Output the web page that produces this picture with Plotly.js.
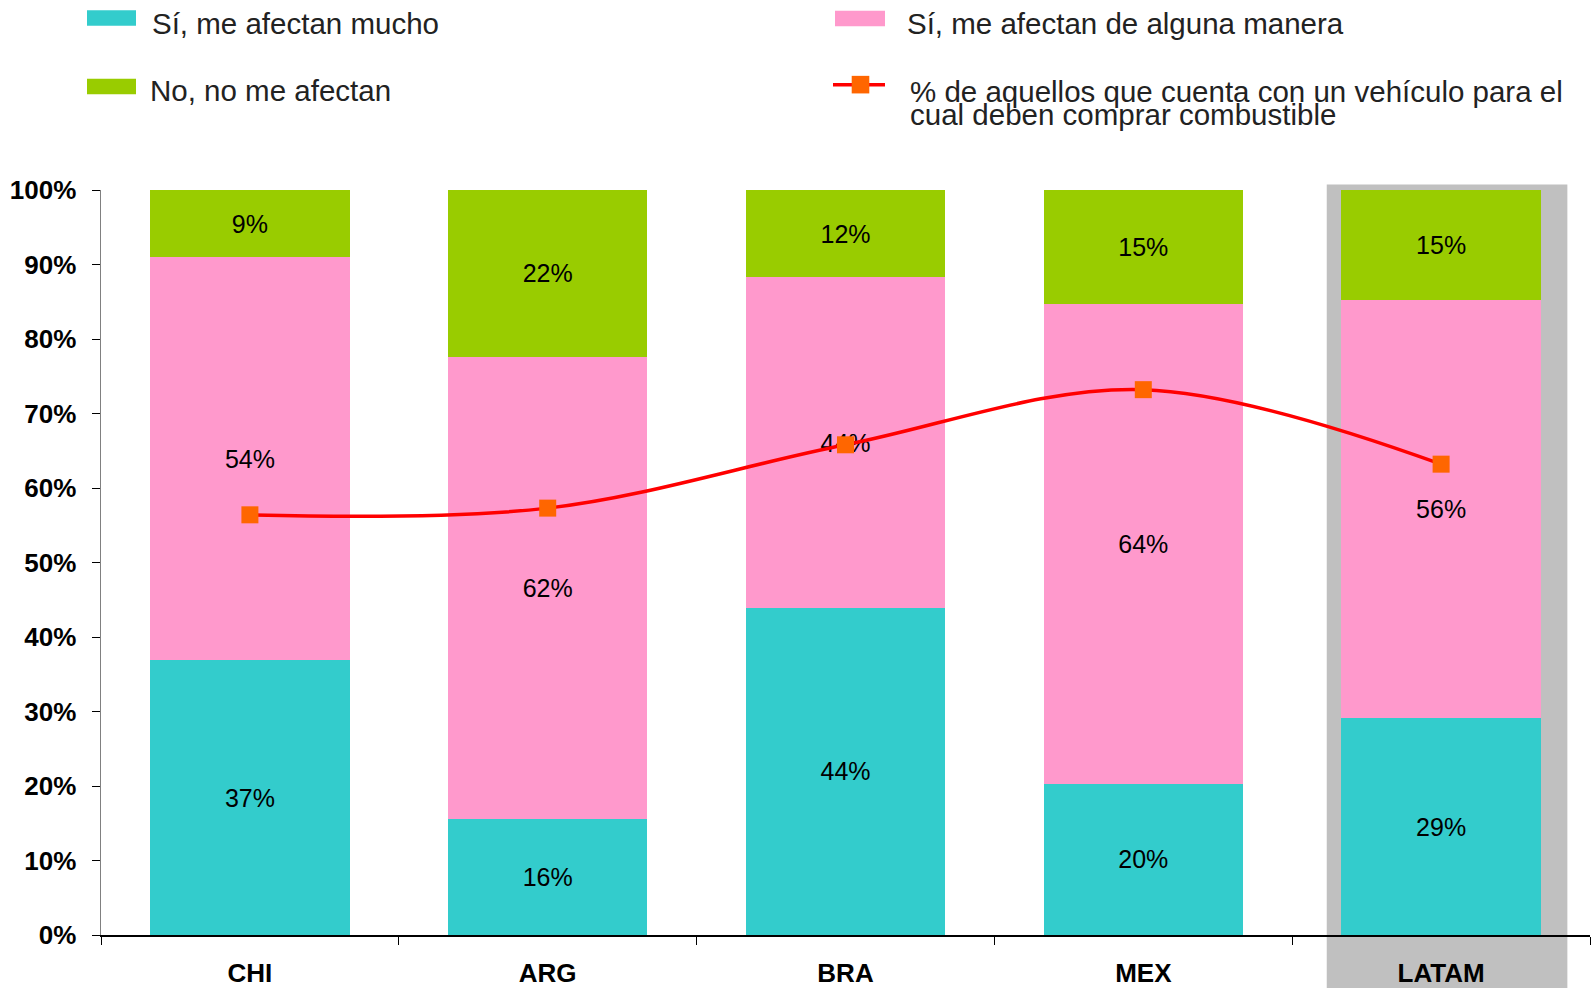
<!DOCTYPE html>
<html>
<head>
<meta charset="utf-8">
<script src="https://cdn.plot.ly/plotly-3.0.1.min.js"></script>
<style>
  html, body { margin: 0; padding: 0; background: #ffffff; }
  #chart { width: 1591px; height: 988px; }
</style>
</head>
<body>
<div id="chart"></div>
<script>
// ---- Data ----
const categories = ['CHI', 'ARG', 'BRA', 'MEX', 'LATAM'];
const muchoValues = [36.9, 15.6, 43.9, 20.3, 29.1];     // Sí, me afectan mucho
const algunaValues = [54.1, 62.0, 44.4, 64.4, 56.2];    // Sí, me afectan de alguna manera
const noValues = [9.0, 22.4, 11.7, 15.3, 14.7];         // No, no me afectan
const vehiculoValues = [56.4, 57.3, 65.8, 73.2, 63.2];  // % con vehículo
const yTickValues = [0, 10, 20, 30, 40, 50, 60, 70, 80, 90, 100];
const yTickLabels = ['0%', '10%', '20%', '30%', '40%', '50%', '60%', '70%', '80%', '90%', '100%'];
const seriesNames = [
  'Sí, me afectan mucho',
  'Sí, me afectan de alguna manera',
  'No, no me afectan',
  '% de aquellos que cuenta con un vehículo para el',
  'cual deben comprar combustible'
];
const highlightCategory = 'LATAM';

// ---- Styles ----
const COLORS = { mucho: '#33CCCC', alguna: '#FF99CC', no: '#99CC00', line: '#FF0000', marker: '#FF6600', highlight: '#C0C0C0' };
const FONT = 'Liberation Sans, Arial, sans-serif';
const W = 1591, H = 988;
const M = { l: 101, r: 1, t: 189.5, b: 52.5 };
const PW = W - M.l - M.r, PH = H - M.t - M.b;
const px = v => (v - M.l) / PW;          // pixel x -> paper
const py = v => (H - M.b - v) / PH;      // pixel y -> paper

const labelFont = { family: FONT, size: 25, color: '#000000' };

function barTrace(name, values, color) {
  return {
    type: 'bar', name: name, x: categories, y: values,
    marker: { color: color, line: { width: 0 } },
    texttemplate: '%{y:.0f}%', textposition: 'inside', insidetextanchor: 'middle',
    textangle: 0, constraintext: 'none', insidetextfont: labelFont, textfont: labelFont,
    hoverinfo: 'x+y', showlegend: false
  };
}

const traces = [
  barTrace(seriesNames[0], muchoValues, COLORS.mucho),
  barTrace(seriesNames[1], algunaValues, COLORS.alguna),
  barTrace(seriesNames[2], noValues, COLORS.no),
  {
    type: 'scatter', mode: 'lines+markers', name: seriesNames[3] + ' ' + seriesNames[4],
    x: categories, y: vehiculoValues,
    line: { color: COLORS.line, width: 3.5, shape: 'spline', smoothing: 1 },
    marker: { symbol: 'square', color: COLORS.marker, size: 17, line: { width: 0 } },
    showlegend: false
  }
];

const hi = categories.indexOf(highlightCategory);

// Custom legend (swatches + text)
const legendFont = { family: FONT, size: 29.5, color: '#222222' };
const shapes = [
  { type: 'rect', xref: 'x', yref: 'paper', layer: 'below',
    x0: hi - 0.384, x1: hi + 0.424, y0: -0.2, y1: py(184),
    fillcolor: COLORS.highlight, line: { width: 0 } },
  { type: 'rect', xref: 'paper', yref: 'paper', x0: px(87), x1: px(136), y0: py(25), y1: py(9.5),
    fillcolor: COLORS.mucho, line: { width: 0 } },
  { type: 'rect', xref: 'paper', yref: 'paper', x0: px(835), x1: px(885), y0: py(25.5), y1: py(10),
    fillcolor: COLORS.alguna, line: { width: 0 } },
  { type: 'rect', xref: 'paper', yref: 'paper', x0: px(87), x1: px(136), y0: py(93.5), y1: py(78),
    fillcolor: COLORS.no, line: { width: 0 } },
  { type: 'line', xref: 'paper', yref: 'paper', x0: px(833), x1: px(885), y0: py(84), y1: py(84),
    line: { color: COLORS.line, width: 3.5 } },
  { type: 'rect', xref: 'paper', yref: 'paper', x0: px(851.7), x1: px(869.3), y0: py(92.8), y1: py(75.2),
    fillcolor: COLORS.marker, line: { width: 0 } }
];

function legendText(text, x, yCenter, size) {
  return { text: text, xref: 'paper', yref: 'paper', x: px(x), y: py(yCenter),
    xanchor: 'left', yanchor: 'middle', showarrow: false, borderpad: 0,
    font: Object.assign({}, legendFont, size ? { size: size } : {}) };
}
const annotations = [
  legendText(seriesNames[0], 151, 23),
  legendText(seriesNames[1], 906, 23),
  legendText(seriesNames[2], 149, 90),
  legendText(seriesNames[3], 909, 91),
  legendText(seriesNames[4], 909, 114)
];

const layout = {
  width: W, height: H,
  margin: M,
  paper_bgcolor: '#ffffff', plot_bgcolor: 'rgba(0,0,0,0)',
  barmode: 'stack', bargap: 0.331,
  showlegend: false,
  font: { family: FONT, color: '#000000' },
  xaxis: {
    type: 'category', categoryorder: 'array', categoryarray: categories,
    range: [-0.5, categories.length - 0.5],
    showline: true, linecolor: '#000000', linewidth: 1.5,
    ticks: 'outside', tickson: 'boundaries', ticklen: 8, tickcolor: '#000000', tickwidth: 1,
    tickfont: { family: FONT, size: 26, color: '#000000', weight: 'bold' },
    ticklabelstandoff: 14,
    showgrid: false, zeroline: false, fixedrange: true
  },
  yaxis: {
    range: [0, 100], tickmode: 'array', tickvals: yTickValues, ticktext: yTickLabels,
    showline: true, linecolor: '#808080', linewidth: 1.5,
    ticks: 'outside', ticklen: 8, tickcolor: '#000000', tickwidth: 1,
    tickfont: { family: FONT, size: 26, color: '#000000', weight: 'bold' },
    ticklabelstandoff: 10,
    showgrid: false, zeroline: false, fixedrange: true
  },
  shapes: shapes,
  annotations: annotations
};

Plotly.newPlot('chart', traces, layout, { displayModeBar: false, staticPlot: true });
</script>
</body>
</html>
